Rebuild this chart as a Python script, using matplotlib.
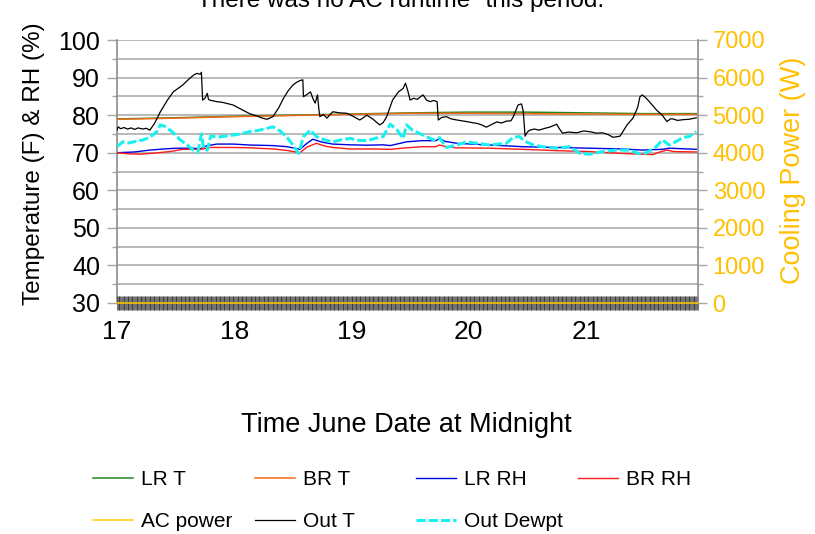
import numpy as np
import matplotlib
matplotlib.use("Agg")
import matplotlib.pyplot as plt
from matplotlib.lines import Line2D
from matplotlib.ticker import MultipleLocator

plt.rcParams["font.family"] = ["Liberation Sans", "DejaVu Sans"]

# ---- data (day of June, readings) ----
title_text = 'There was no AC runtime" this period.'
xticks = [17, 18, 19, 20, 21]

lr_t_day = [17.0, 17.5, 18.0, 18.5, 19.0, 19.5, 20.0, 20.5, 21.0, 21.5, 21.94]
lr_t = [79.0, 79.3, 79.7, 80.0, 80.3, 80.6, 80.8, 80.8, 80.6, 80.4, 80.4]

br_t_day = [17.0, 17.5, 18.0, 18.5, 19.0, 19.5, 20.0, 20.5, 21.0, 21.5, 21.94]
br_t = [78.9, 79.2, 79.6, 79.9, 80.2, 80.5, 80.5, 80.4, 80.3, 80.2, 80.2]

lr_rh_day = [17.00, 17.15, 17.28, 17.40, 17.51, 17.65, 17.71, 17.76, 17.85, 17.99,
             18.13, 18.33, 18.45, 18.56, 18.62, 18.67, 18.75, 18.84, 18.99, 19.13,
             19.27, 19.33, 19.47, 19.60, 19.72, 19.75, 19.80, 19.90, 20.18, 20.46,
             20.75, 21.03, 21.31, 21.48, 21.65, 21.71, 21.94]
lr_rh = [70.0, 70.2, 70.7, 71.0, 71.2, 71.2, 71.0, 71.8, 72.3, 72.3,
         72.05, 71.9, 71.6, 70.9, 72.5, 73.6, 72.8, 72.3, 72.1, 72.0,
         72.1, 71.9, 72.9, 73.2, 73.2, 73.8, 73.0, 72.5, 72.05, 71.6,
         71.4, 71.2, 71.0, 70.7, 70.9, 71.2, 70.9]

br_rh_day = [17.00, 17.10, 17.20, 17.35, 17.45, 17.56, 17.71, 17.80, 17.99, 18.13,
             18.33, 18.45, 18.56, 18.62, 18.70, 18.78, 18.84, 18.99, 19.20, 19.33,
             19.47, 19.60, 19.72, 19.75, 19.82, 19.90, 20.18, 20.46, 20.75, 21.03,
             21.31, 21.57, 21.63, 21.69, 21.75, 21.94]
br_rh = [70.0, 69.7, 69.6, 70.0, 70.3, 70.9, 70.9, 71.4, 71.4, 71.3,
         71.0, 70.6, 70.0, 71.5, 72.5, 71.7, 71.4, 71.0, 71.0, 70.9,
         71.3, 71.6, 71.6, 72.05, 71.5, 71.3, 71.2, 70.9, 70.55, 70.3,
         69.8, 69.5, 70.2, 70.7, 70.3, 70.2]

out_t_day = [17.00, 17.01, 17.03, 17.06, 17.09, 17.12, 17.15, 17.18, 17.22, 17.25,
             17.28, 17.32, 17.37, 17.43, 17.48, 17.56, 17.62, 17.66, 17.68, 17.71,
             17.72, 17.73, 17.75, 17.77, 17.78, 17.79, 17.82, 17.85, 17.90, 17.95,
             17.99, 18.07, 18.13, 18.19, 18.24, 18.28, 18.33, 18.38, 18.42, 18.46,
             18.50, 18.53, 18.56, 18.585, 18.59, 18.62, 18.65, 18.67, 18.69, 18.71,
             18.72, 18.73, 18.76, 18.79, 18.82, 18.84, 18.90, 18.96, 19.02, 19.07,
             19.10, 19.13, 19.18, 19.24, 19.27, 19.30, 19.35, 19.40, 19.44, 19.46,
             19.48, 19.50, 19.53, 19.56, 19.61, 19.64, 19.67, 19.70, 19.73, 19.74,
             19.77, 19.81, 19.85, 19.90, 19.94, 19.98, 20.03, 20.07, 20.11, 20.15,
             20.20, 20.24, 20.28, 20.32, 20.36, 20.38, 20.42, 20.45, 20.465, 20.48,
             20.50, 20.52, 20.56, 20.60, 20.65, 20.69, 20.75, 20.77, 20.80, 20.85,
             20.92, 20.98, 21.03, 21.09, 21.14, 21.19, 21.23, 21.29, 21.35, 21.40,
             21.44, 21.46, 21.48, 21.51, 21.54, 21.60, 21.65, 21.69, 21.72, 21.74,
             21.78, 21.83, 21.88, 21.94]
out_t = [76.0, 76.9, 76.4, 76.7, 76.3, 76.6, 76.2, 76.6, 76.3, 76.5,
         76.0, 77.8, 80.9, 84.0, 86.2, 88.0, 89.8, 90.8, 91.1, 90.9,
         91.4, 84.0, 84.5, 85.8, 84.2, 84.0, 83.8, 83.6, 83.4, 83.0,
         82.7, 81.4, 80.4, 79.8, 79.2, 78.9, 79.6, 82.0, 84.5, 86.5,
         88.0, 88.7, 89.2, 89.4, 84.9, 85.5, 86.2, 84.5, 83.2, 85.4,
         82.0, 79.6, 80.2, 79.2, 80.2, 80.9, 80.6, 80.5, 79.6, 78.7,
         79.3, 80.0, 79.0, 77.4, 78.0, 79.6, 84.0, 86.2, 87.1, 88.5,
         86.5, 84.0, 84.5, 84.2, 85.4, 84.0, 83.6, 83.9, 83.6, 78.7,
         79.4, 79.6, 79.0, 78.7, 78.5, 78.3, 78.0, 77.8, 77.4, 76.8,
         77.6, 78.2, 77.9, 78.4, 78.5, 79.6, 82.7, 83.0, 81.0, 74.4,
         75.5, 76.0, 76.3, 76.0, 76.5, 76.8, 77.6, 76.5, 75.2, 75.5,
         75.3, 75.8, 75.6, 75.2, 75.3, 74.8, 74.1, 74.4, 77.4, 79.2,
         82.0, 84.9, 85.4, 84.6, 83.6, 81.4, 80.0, 78.3, 79.0, 79.0,
         78.6, 78.8, 78.9, 79.3]

dewpt_day = [17.00, 17.05, 17.10, 17.16, 17.22, 17.28, 17.34, 17.37, 17.41, 17.47,
             17.54, 17.60, 17.65, 17.69, 17.72, 17.74, 17.77, 17.80, 17.85, 17.92,
             17.99, 18.06, 18.13, 18.20, 18.28, 18.33, 18.39, 18.45, 18.50, 18.55,
             18.59, 18.65, 18.70, 18.77, 18.84, 18.92, 18.99, 19.06, 19.13, 19.20,
             19.27, 19.33, 19.39, 19.44, 19.47, 19.52, 19.61, 19.70, 19.75, 19.81,
             19.90, 19.98, 20.07, 20.18, 20.25, 20.32, 20.38, 20.43, 20.49, 20.55,
             20.63, 20.75, 20.86, 20.95, 21.03, 21.14, 21.26, 21.37, 21.46, 21.51,
             21.60, 21.65, 21.71, 21.77, 21.83, 21.88, 21.94]
dewpt = [71.6, 72.9, 72.6, 73.0, 73.4, 74.1, 75.6, 77.4, 77.0, 75.6,
         73.4, 72.05, 70.7, 70.2, 75.0, 71.0, 70.7, 74.5, 74.1, 74.4,
         74.7, 75.0, 75.6, 75.9, 76.5, 76.9, 75.8, 74.1, 72.05, 69.8,
         74.3, 76.0, 74.3, 73.4, 72.9, 73.5, 73.8, 73.3, 73.2, 73.8,
         74.3, 77.6, 76.0, 73.8, 77.4, 76.0, 74.7, 73.4, 74.0, 71.4,
         72.05, 72.9, 72.5, 72.05, 72.3, 72.5, 74.1, 74.3, 72.9, 72.05,
         71.6, 71.2, 71.6, 69.8, 69.6, 70.3, 70.7, 70.7, 69.7, 69.9,
         71.6, 73.4, 72.05, 73.0, 74.1, 74.3, 75.6]

# AC power log (10-minute samples): the unit never ran
ac_start, ac_end, ac_step = 17.0, 21.955, 10.0 / 1440.0
ac_day = np.arange(ac_start, ac_end, ac_step)
ac_power_w = np.zeros(len(ac_day))

# ---- style ----
GREEN = "#1e8a1e"
ORANGE = "#f26a1b"
BLUE = "#0000e6"
RED = "#ff1a1a"
GOLD = "#ffc000"
AC_YELLOW = "#f5c400"
CYAN = "#19f0f0"
GRID = "#a6a6a6"
SPINE = "#8c8c8c"

fig = plt.figure(figsize=(8.15, 5.34), dpi=100)
W, H = 815.0, 534.0
ax = fig.add_axes([117 / W, 1 - 303 / H, 581 / W, 263 / H])
ax2 = ax.twinx()

ax.set_xlim(17, 21.955)
ax.set_ylim(30, 100)
ax2.set_ylim(0, 7000)

l_lrt, = ax.plot(lr_t_day, lr_t, color=GREEN, lw=1.1, label="LR T", zorder=3)
l_brt, = ax.plot(br_t_day, br_t, color=ORANGE, lw=1.1, label="BR T", zorder=3)
l_lrrh, = ax.plot(lr_rh_day, lr_rh, color=BLUE, lw=1.0, label="LR RH", zorder=3)
l_brrh, = ax.plot(br_rh_day, br_rh, color=RED, lw=1.0, label="BR RH", zorder=3)
l_out, = ax.plot(out_t_day, out_t, color="black", lw=0.9, label="Out T", zorder=4)
l_dew, = ax.plot(dewpt_day, dewpt, color=CYAN, lw=2.2, ls=(0, (3, 1)),
                 label="Out Dewpt", zorder=3)

# AC power on the secondary axis: sample markers under a thin line
ax2.plot(ac_day, ac_power_w, ls="none", marker="|", markersize=9.5,
         markeredgewidth=0.45, markeredgecolor="#202020", clip_on=False, zorder=2)
l_ac, = ax2.plot(ac_day, ac_power_w, color=AC_YELLOW, lw=1.2, label="AC power",
                 clip_on=False, zorder=3)

# ---- axes styling ----
ax.yaxis.set_major_locator(MultipleLocator(10))
ax.yaxis.set_minor_locator(MultipleLocator(5))
ax.set_xticks(xticks)
ax.set_xticklabels([str(t) for t in xticks])
ax.yaxis.grid(True, which="both", color=GRID, lw=1.1)
ax.set_axisbelow(True)

for s in ("top", "bottom", "right"):
    ax.spines[s].set_visible(False)
ax.spines["left"].set_color(SPINE)
ax.spines["left"].set_linewidth(1.2)
for s in ("top", "bottom", "left"):
    ax2.spines[s].set_visible(False)
ax2.spines["right"].set_color(SPINE)
ax2.spines["right"].set_linewidth(1.2)

ax.tick_params(axis="y", which="major", length=7.2, width=1, color=GRID,
               labelsize=18, pad=5)
ax.tick_params(axis="y", which="minor", length=3.6, width=1, color=GRID)
ax.tick_params(axis="x", length=0, labelsize=19, pad=12)

ax2.yaxis.set_major_locator(MultipleLocator(1000))
ax2.yaxis.set_minor_locator(MultipleLocator(500))
ax2.tick_params(axis="y", which="major", length=6.5, width=1, color=GRID,
                labelsize=17, labelcolor=GOLD, pad=4)
ax2.tick_params(axis="y", which="minor", length=3.6, width=1, color=GRID)

ax.set_ylabel("Temperature (F) & RH (%)", fontsize=17.5, va="center", ha="center")
ax.yaxis.set_label_coords((34 - 117) / 581, (303 - 164) / 263)
ax2.set_ylabel("Cooling Power (W)", fontsize=19.5, color=GOLD, va="center", ha="center")
ax2.yaxis.set_label_coords((793 - 117) / 581, (303 - 170) / 263)
ax.set_xlabel("Time June Date at Midnight", fontsize=19.5, va="center")
ax.xaxis.set_label_coords((406 - 117) / 581, (303 - 425) / 263)

t = ax.set_title(title_text, fontsize=17.5, y=(303 - 7) / 263, pad=0, va="baseline")
t.set_x((401 - 117) / 581)

# ---- legend: four evenly spaced columns ----
ac_handle = Line2D([], [], color="#ffd21f", lw=1.2)
columns = [
    ([l_lrt, ac_handle], ["LR T", "AC power"], 93),
    ([l_brt, l_out], ["BR T", "Out T"], 255),
    ([l_lrrh, l_dew], ["LR RH", "Out Dewpt"], 416),
    ([l_brrh], ["BR RH"], 578),
]
for handles, labels, xpx in columns:
    fig.legend(handles, labels, loc="upper left",
               bbox_to_anchor=(xpx / W, 1 - 470 / H), frameon=False,
               fontsize=15, handlelength=1.92, handletextpad=0.4,
               labelspacing=1.1, borderpad=0, borderaxespad=0)

fig.savefig("out.png", dpi=100)
